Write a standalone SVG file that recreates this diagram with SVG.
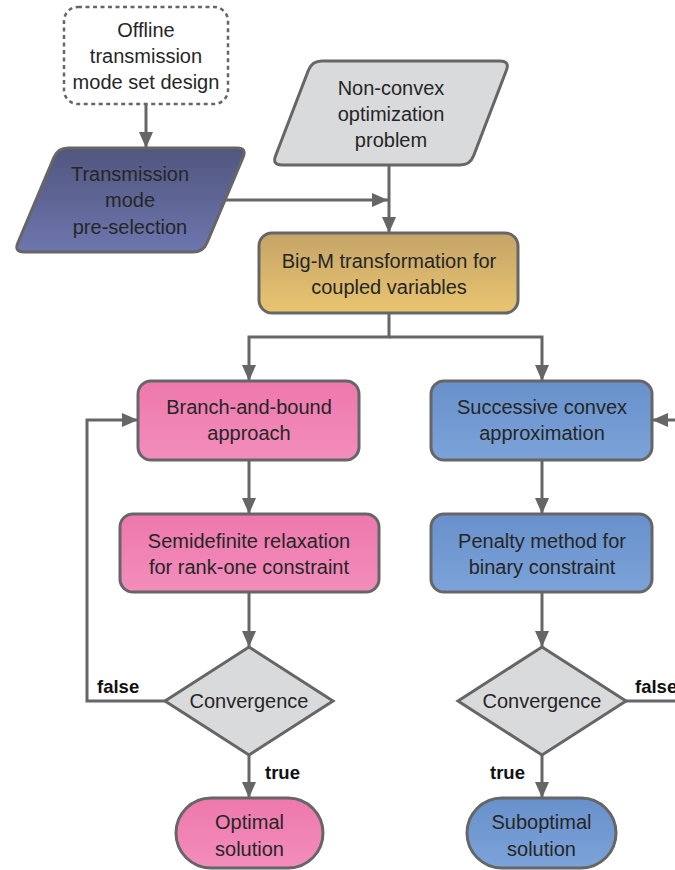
<svg xmlns="http://www.w3.org/2000/svg" width="675" height="870" viewBox="0 0 675 870">
<style>
.t{font-family:"Liberation Sans",Arial,sans-serif;font-size:20px;fill:#262626;text-anchor:middle}
.b{font-family:"Liberation Sans",Arial,sans-serif;font-size:18.5px;font-weight:bold;fill:#111}
.n{stroke:#666;stroke-width:3}
.c{fill:none;stroke:#666;stroke-width:3}
</style>
<defs>
<linearGradient id="gPink" x1="0" y1="0" x2="0" y2="1"><stop offset="0" stop-color="#EE78AC"/><stop offset="1" stop-color="#F28DBC"/></linearGradient>
<linearGradient id="gBlue" x1="0" y1="0" x2="0" y2="1"><stop offset="0" stop-color="#6890CA"/><stop offset="1" stop-color="#7CA3D9"/></linearGradient>
<linearGradient id="gGold" x1="0" y1="0" x2="0" y2="1"><stop offset="0" stop-color="#C5A468"/><stop offset="1" stop-color="#E9C570"/></linearGradient>
<linearGradient id="gPurple" x1="0" y1="0" x2="0" y2="1"><stop offset="0" stop-color="#51567E"/><stop offset="1" stop-color="#6D76AE"/></linearGradient>
<marker id="arr" markerUnits="userSpaceOnUse" markerWidth="17" markerHeight="15" refX="16" refY="7" orient="auto"><path d="M0,0 L16,7 L0,14 z" fill="#666"/></marker>
</defs>

<g id="offline">
<rect x="64" y="7" width="164" height="97" rx="14" fill="#fff" stroke="#666" stroke-width="2.5" stroke-dasharray="4 3.5"/>
<text class="t" x="146" y="37">Offline</text>
<text class="t" x="146" y="63">transmission</text>
<text class="t" x="146" y="89">mode set design</text>
</g>

<g id="preselection">
<path class="n" fill="url(#gPurple)" d="M68,148 L237,148 Q247,148 243.1,157.2 L206.9,242.8 Q203,252 193,252 L24,252 Q14,252 17.9,242.8 L54.1,157.2 Q58,148 68,148 Z"/>
<text class="t" x="130" y="181" fill="#1c1c2c">Transmission</text>
<text class="t" x="130" y="207" fill="#1c1c2c">mode</text>
<text class="t" x="130" y="234" fill="#1c1c2c">pre-selection</text>
</g>

<g id="nonconvex">
<path class="n" fill="#D9DADC" d="M322,61 L500,61 Q510,61 506.4,70.3 L473.6,155.7 Q470,165 460,165 L282,165 Q272,165 275.6,155.7 L308.4,70.3 Q312,61 322,61 Z"/>
<text class="t" x="391" y="95">Non-convex</text>
<text class="t" x="391" y="121">optimization</text>
<text class="t" x="391" y="147">problem</text>
</g>

<g id="bigm">
<rect class="n" x="259" y="233" width="259" height="80" rx="13" fill="url(#gGold)"/>
<text class="t" x="389" y="268">Big-M transformation for</text>
<text class="t" x="389" y="294">coupled variables</text>
</g>

<g id="bnb">
<rect class="n" x="138" y="381" width="221" height="79" rx="13" fill="url(#gPink)"/>
<text class="t" x="249" y="414">Branch-and-bound</text>
<text class="t" x="249" y="440">approach</text>
</g>

<g id="sca">
<rect class="n" x="431" y="381" width="221" height="79" rx="13" fill="url(#gBlue)"/>
<text class="t" x="542" y="414">Successive convex</text>
<text class="t" x="542" y="440">approximation</text>
</g>

<g id="sdr">
<rect class="n" x="120" y="514" width="259" height="78" rx="13" fill="url(#gPink)"/>
<text class="t" x="249" y="548">Semidefinite relaxation</text>
<text class="t" x="249" y="574">for rank-one constraint</text>
</g>

<g id="penalty">
<rect class="n" x="431" y="514" width="221" height="78" rx="13" fill="url(#gBlue)"/>
<text class="t" x="542" y="548">Penalty method for</text>
<text class="t" x="542" y="574">binary constraint</text>
</g>

<g id="conv1">
<path class="n" fill="#D9DADC" d="M249,647 L333,701 L249,755 L165,701 Z"/>
<text class="t" x="249" y="708">Convergence</text>
</g>

<g id="conv2">
<path class="n" fill="#D9DADC" d="M542,647 L626,701 L542,755 L458,701 Z"/>
<text class="t" x="542" y="708">Convergence</text>
</g>

<g id="optimal">
<rect class="n" x="176" y="798" width="147" height="70" rx="35" fill="url(#gPink)"/>
<text class="t" x="249.5" y="829">Optimal</text>
<text class="t" x="249.5" y="856">solution</text>
</g>

<g id="suboptimal">
<rect class="n" x="467" y="798" width="149" height="70" rx="35" fill="url(#gBlue)"/>
<text class="t" x="541.5" y="829">Suboptimal</text>
<text class="t" x="541.5" y="856">solution</text>
</g>

<g id="connectors">
<path class="c" d="M146,104 V148" marker-end="url(#arr)"/>
<path class="c" d="M225,200 H388" marker-end="url(#arr)"/>
<path class="c" d="M389,165 V233" marker-end="url(#arr)"/>
<path class="c" d="M389,313 V337 H249 V381" marker-end="url(#arr)"/>
<path class="c" d="M389,337 H542 V381" marker-end="url(#arr)"/>
<path class="c" d="M249,460 V514" marker-end="url(#arr)"/>
<path class="c" d="M542,460 V514" marker-end="url(#arr)"/>
<path class="c" d="M249,592 V647" marker-end="url(#arr)"/>
<path class="c" d="M542,592 V647" marker-end="url(#arr)"/>
<path class="c" d="M249,755 V798" marker-end="url(#arr)"/>
<path class="c" d="M542,755 V798" marker-end="url(#arr)"/>
<path class="c" d="M165,701 H87 V420 H138" marker-end="url(#arr)"/>
<path class="c" d="M626,701 H690"/>
<path class="c" d="M690,420 H652" marker-end="url(#arr)"/>
<text class="b" x="97" y="693">false</text>
<text class="b" x="265" y="779">true</text>
<text class="b" x="490" y="779">true</text>
<text class="b" x="635" y="693">false</text>
</g>
</svg>
